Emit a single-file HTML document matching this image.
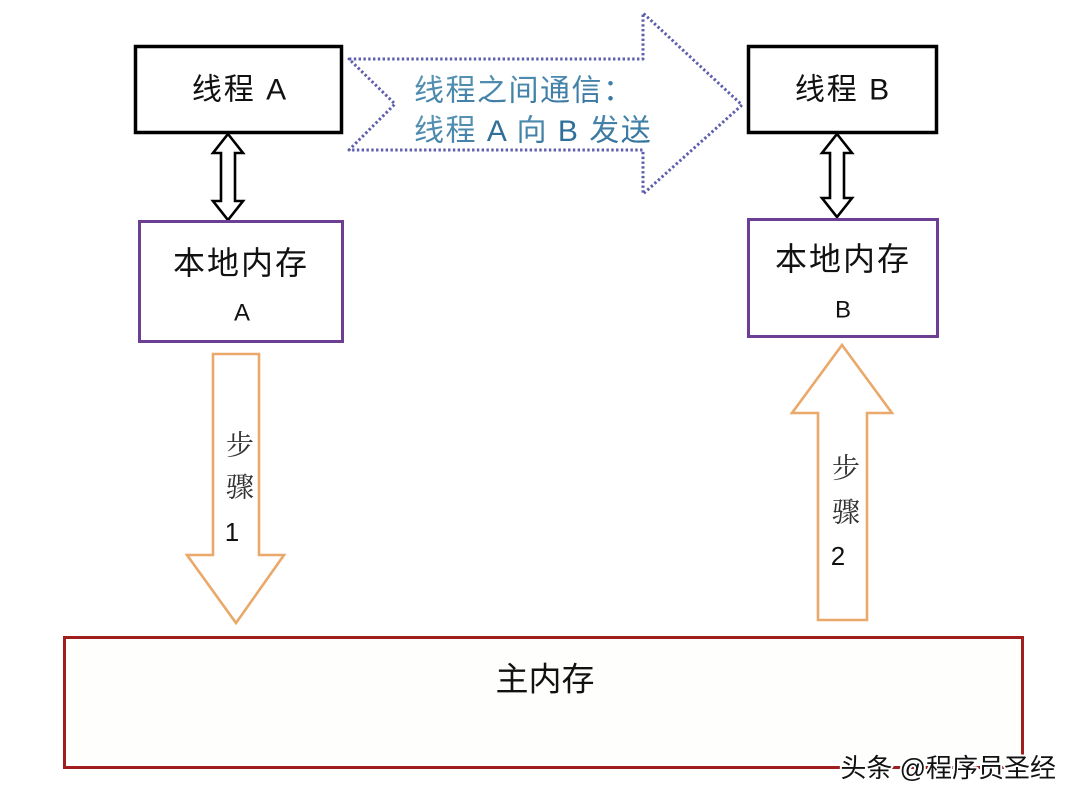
<!DOCTYPE html>
<html>
<head>
<meta charset="utf-8">
<style>
html,body{margin:0;padding:0;background:#ffffff;}
svg{display:block;}
.s{font-family:"Liberation Sans","Noto Sans CJK SC",sans-serif;}
.sf{font-family:"Liberation Serif","Noto Serif CJK SC",serif;}
</style>
</head>
<body>
<svg width="1080" height="804" viewBox="0 0 1080 804" xmlns="http://www.w3.org/2000/svg">
  <defs>
    <linearGradient id="tg" x1="0" y1="0" x2="1" y2="1">
      <stop offset="0" stop-color="#5b97b8"/>
      <stop offset="1" stop-color="#2f6f9a"/>
    </linearGradient>
  </defs>
  <rect width="1080" height="804" fill="#ffffff"/>

  <!-- Thread A box -->
  <rect x="135.5" y="46.5" width="206" height="86" fill="#fff" stroke="#000" stroke-width="3.5"/>
  <text class="s" x="240" y="90" font-size="30" letter-spacing="2" text-anchor="middle" dominant-baseline="central" fill="#111">线程 A</text>

  <!-- Thread B box -->
  <rect x="748.5" y="46.5" width="188" height="86" fill="#fff" stroke="#000" stroke-width="3.5"/>
  <text class="s" x="843" y="90" font-size="30" letter-spacing="2" text-anchor="middle" dominant-baseline="central" fill="#111">线程 B</text>

  <!-- Dotted big arrow -->
  <polygon points="349,59 643,59 643,13 742,105 643,194 643,150 349,150 395,104"
    fill="#fff" stroke="#5e5eae" stroke-width="3" stroke-dasharray="2.4 2.4" stroke-linejoin="round"/>
  <text class="s" x="414" y="91" font-size="30" letter-spacing="1.5" dominant-baseline="central" fill="url(#tg)">线程之间通信：</text>
  <text class="s" x="414" y="131" font-size="30" letter-spacing="1.5" dominant-baseline="central" fill="url(#tg)">线程 <tspan fill="#2f6f9a">A</tspan> 向 <tspan fill="#2f6f9a">B</tspan> 发送</text>

  <!-- Double arrow A -->
  <polygon points="228,134 243,153 235,153 235,201 243,201 228,220 213,201 221,201 221,153 213,153"
    fill="#fff" stroke="#000" stroke-width="2.6" stroke-linejoin="miter"/>
  <!-- Double arrow B -->
  <polygon points="837,134 852,153 844,153 844,198 852,198 837,217 822,198 830,198 830,153 822,153"
    fill="#fff" stroke="#000" stroke-width="2.6" stroke-linejoin="miter"/>

  <!-- Local memory A -->
  <rect x="139.5" y="221.5" width="203" height="120" fill="#fff" stroke="#6d3f94" stroke-width="3"/>
  <text class="s" x="241" y="263" font-size="32" letter-spacing="2" text-anchor="middle" dominant-baseline="central" fill="#111">本地内存</text>
  <text class="s" x="242" y="313" font-size="24" text-anchor="middle" dominant-baseline="central" fill="#111">A</text>

  <!-- Local memory B -->
  <rect x="748.5" y="219.5" width="189" height="117" fill="#fff" stroke="#6d3f94" stroke-width="3"/>
  <text class="s" x="843" y="259" font-size="32" letter-spacing="2" text-anchor="middle" dominant-baseline="central" fill="#111">本地内存</text>
  <text class="s" x="843" y="310" font-size="24" text-anchor="middle" dominant-baseline="central" fill="#111">B</text>

  <!-- Orange down arrow (step 1) -->
  <polygon points="213,354 259,354 259,555 284,555 236,623 187,555 213,555"
    fill="#fff" stroke="#eaa86a" stroke-width="2.6" stroke-linejoin="miter"/>
  <text class="sf" x="240" y="446" font-size="28" text-anchor="middle" dominant-baseline="central" fill="#333">步</text>
  <text class="sf" x="240" y="488" font-size="28" text-anchor="middle" dominant-baseline="central" fill="#333">骤</text>
  <text class="s" x="232" y="532" font-size="26" text-anchor="middle" dominant-baseline="central" fill="#111">1</text>

  <!-- Orange up arrow (step 2) -->
  <polygon points="842,345 892,413 867,413 867,620 818,620 818,413 792,413"
    fill="#fff" stroke="#eaa86a" stroke-width="2.6" stroke-linejoin="miter"/>
  <text class="sf" x="846" y="469" font-size="28" text-anchor="middle" dominant-baseline="central" fill="#333">步</text>
  <text class="sf" x="846" y="513" font-size="28" text-anchor="middle" dominant-baseline="central" fill="#333">骤</text>
  <text class="s" x="838" y="556" font-size="26" text-anchor="middle" dominant-baseline="central" fill="#111">2</text>

  <!-- Main memory -->
  <rect x="64.5" y="637.5" width="958" height="130" fill="#fefefc" stroke="#a01e1e" stroke-width="3"/>
  <text class="s" x="545" y="679" font-size="33" text-anchor="middle" dominant-baseline="central" fill="#111">主内存</text>

  <!-- Watermark -->
  <text class="s" x="1056" y="768" font-size="26" text-anchor="end" dominant-baseline="central" fill="#111" stroke="#ffffff" stroke-width="4" paint-order="stroke" stroke-linejoin="round">头条 @程序员圣经</text>
</svg>
</body>
</html>
